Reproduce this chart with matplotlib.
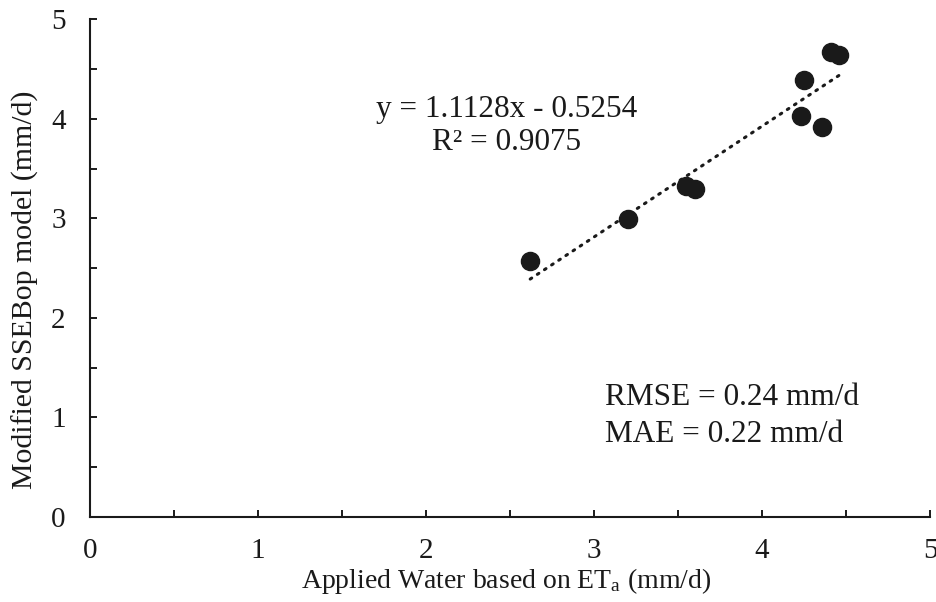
import matplotlib
matplotlib.use('Agg')
import numpy as np
import matplotlib.pyplot as plt
from matplotlib.ticker import MultipleLocator

plt.rcParams['font.family'] = ['Liberation Serif', 'DejaVu Serif']
plt.rcParams['mathtext.fontset'] = 'custom'
plt.rcParams['mathtext.rm'] = 'Liberation Serif'
plt.rcParams['mathtext.it'] = 'Liberation Serif:italic'

# applied water (ETa) vs modified SSEBop model, mm/d
applied_water = [2.62, 3.20, 3.55, 3.60, 4.23, 4.25, 4.36, 4.41, 4.46]
ssebop_model = [2.57, 2.99, 3.33, 3.29, 4.03, 4.39, 3.92, 4.67, 4.64]
slope = 1.1128
intercept = -0.5254
r2 = 0.9075
rmse = 0.24
mae = 0.22

ink = '#1a1a1a'

fig = plt.figure(figsize=(9.36, 6.02), dpi=100)
ax = fig.add_axes([0.0962, 0.1412, 0.8974, 0.8268])

ax.scatter(applied_water, ssebop_model, s=170, color=ink, zorder=3)

# linear trendline over the data range
xs = np.array([min(applied_water), max(applied_water)])
ax.plot(xs, slope * xs + intercept, color=ink, lw=2.2,
        linestyle=(0, (0.6, 2.2)), dash_capstyle='round', zorder=2)

ax.set_xlim(0, 5)
ax.set_ylim(0, 5)
ax.xaxis.set_major_locator(MultipleLocator(1))
ax.xaxis.set_minor_locator(MultipleLocator(0.5))
ax.yaxis.set_major_locator(MultipleLocator(1))
ax.yaxis.set_minor_locator(MultipleLocator(0.5))
ax.tick_params(which='both', direction='in', width=1.4, length=5, labelsize=21,
               color=ink, labelcolor=ink)
ax.tick_params(axis='x', which='major', pad=15)
ax.tick_params(axis='y', which='major', pad=17.5)

for side in ['top', 'right']:
    ax.spines[side].set_visible(False)
for side in ['left', 'bottom']:
    ax.spines[side].set_linewidth(1.5)
    ax.spines[side].set_color(ink)

# axis titles
fig.text(506 / 936, 1 - 588 / 602, 'Applied Water based on ET$\\mathregular{_a}$ (mm/d)',
         fontsize=20, ha='center', va='baseline', color=ink)
fig.text(25 / 936, 1 - 290 / 602, 'Modified SSEBop model (mm/d)', fontsize=21.5,
         rotation=90, ha='center', va='center', color=ink)

ax.text(2.479, 4.016, 'y = %.4fx - %.4f' % (slope, -intercept), fontsize=22.5,
        ha='center', va='baseline', color=ink)
ax.text(2.479, 3.685, 'R² = %.4f' % r2, fontsize=22.5, ha='center', va='baseline',
        color=ink)
ax.text(3.065, 1.124, 'RMSE = %.2f mm/d' % rmse, fontsize=22.5, ha='left',
        va='baseline', color=ink)
ax.text(3.065, 0.753, 'MAE = %.2f mm/d' % mae, fontsize=22.5, ha='left',
        va='baseline', color=ink)

fig.savefig('out.png', dpi=100)
